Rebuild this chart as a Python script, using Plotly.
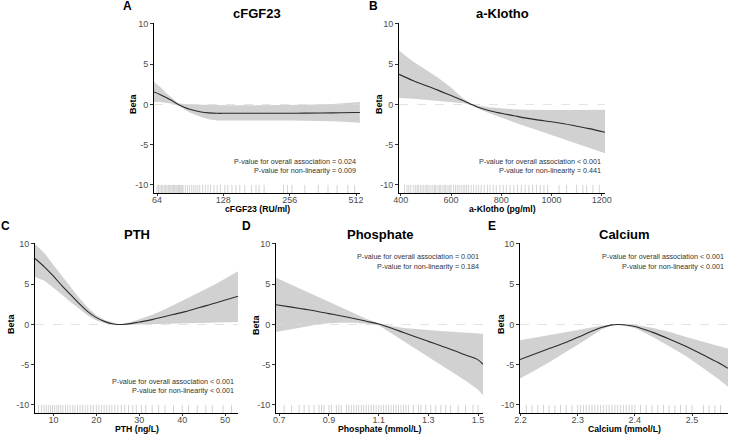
import plotly.graph_objects as go
import math

# ---------------- data ----------------
# A: cFGF23
fgf_x = [62, 66, 70, 75, 80, 85, 90, 100, 110, 120, 130, 150, 200, 256, 300, 400, 512, 533]
fgf_y = [1.55, 1.25, 0.9, 0.45, 0.0, -0.35, -0.6, -0.9, -1.05, -1.1, -1.1, -1.1, -1.1, -1.1, -1.08, -1.05, -1.0, -1.0]
fgf_up = [2.8, 2.2, 1.5, 0.8, 0.15, 0.05, 0.0, -0.05, -0.05, -0.1, -0.1, -0.1, -0.1, -0.1, -0.05, 0.05, 0.25, 0.3]
fgf_lo = [0.3, 0.3, 0.25, 0.1, -0.15, -0.6, -1.0, -1.5, -1.85, -2.0, -2.05, -2.05, -2.0, -2.0, -2.0, -2.1, -2.25, -2.3]
fgf_rug = [64, 65, 66, 67, 68, 69, 70, 71, 72, 73, 74, 75, 76, 77, 78, 79, 80, 81, 82, 83, 84, 86, 88, 90, 92,
           94, 96, 98, 100, 103, 106, 109, 112, 116, 120, 124, 130, 134, 140, 146, 152, 160, 172, 180, 186,
           196, 240, 250, 262, 300, 345, 382, 420, 470, 505]

# B: a-Klotho
klo_x = [393, 450, 500, 550, 600, 650, 675, 700, 750, 800, 850, 900, 950, 1000, 1050, 1100, 1150, 1213]
klo_y = [3.75, 2.95, 2.35, 1.75, 1.1, 0.45, 0.1, -0.25, -0.75, -1.1, -1.4, -1.7, -1.95, -2.15, -2.4, -2.7, -3.0, -3.45]
klo_up = [6.7, 5.3, 4.3, 3.3, 2.1, 0.7, 0.2, -0.1, -0.35, -0.5, -0.6, -0.65, -0.7, -0.7, -0.7, -0.7, -0.65, -0.65]
klo_lo = [0.8, 0.7, 0.6, 0.45, 0.3, 0.15, -0.05, -0.4, -1.05, -1.65, -2.2, -2.75, -3.3, -3.8, -4.3, -4.9, -5.4, -6.05]
klo_rug = [415, 425, 432, 440, 450, 458, 465, 470, 478, 485, 492, 500, 505, 512, 520, 528, 535, 540, 548, 555,
           560, 568, 575, 580, 588, 595, 600, 610, 618, 625, 632, 640, 648, 655, 662, 670, 680, 690, 700, 710,
           720, 732, 745, 755, 768, 780, 795, 808, 820, 835, 850, 865, 880, 895, 910, 925, 940, 955, 970, 985,
           1030, 1060, 1100, 1125, 1140, 1165, 1190]

# C: PTH
pth_x = [5.7, 8, 10, 12, 14, 16, 18, 20, 22, 24, 25, 26, 28, 30, 33, 36, 40, 44, 48, 53]
pth_y = [8.2, 7.1, 6.0, 4.8, 3.7, 2.6, 1.6, 0.85, 0.35, 0.05, 0.0, 0.0, 0.1, 0.3, 0.6, 1.0, 1.5, 2.1, 2.7, 3.5]
pth_up = [10.0, 8.8, 7.4, 6.0, 4.6, 3.3, 2.1, 1.15, 0.55, 0.15, 0.05, 0.05, 0.3, 0.65, 1.2, 1.9, 2.9, 4.0, 5.1, 6.6]
pth_lo = [5.9, 5.4, 4.6, 3.7, 2.8, 1.9, 1.1, 0.5, 0.15, -0.05, -0.05, -0.05, -0.05, 0.0, 0.05, 0.1, 0.15, 0.2, 0.25, 0.3]
pth_rug = [6.5, 7.2, 7.8, 8.3, 8.8, 9.3, 9.8, 10.3, 10.8, 11.2, 11.7, 12.2, 12.8, 13.3, 13.9, 14.5, 15.0, 15.6,
           16.2, 16.8, 17.4, 18.0, 18.7, 19.3, 20.0, 20.6, 21.2, 21.8, 22.4, 23.0, 23.6, 24.3, 25.0, 25.8, 26.6,
           27.5, 28.5, 29.3, 30.5, 31.5, 33.0, 34.5, 36.0, 38.0, 40.0, 41.5, 43.5, 45.5, 47.0, 49.5, 51.5]

# D: Phosphate
pho_x = [0.687, 0.75, 0.8, 0.85, 0.9, 0.95, 1.0, 1.05, 1.1, 1.15, 1.2, 1.25, 1.3, 1.35, 1.4, 1.45, 1.5, 1.52]
pho_y = [2.45, 2.15, 1.9, 1.65, 1.35, 1.05, 0.75, 0.4, 0.05, -0.45, -1.0, -1.55, -2.1, -2.65, -3.2, -3.8, -4.4, -4.95]
pho_up = [5.8, 4.9, 4.2, 3.5, 2.8, 2.05, 1.35, 0.7, 0.15, -0.2, -0.45, -0.6, -0.7, -0.8, -0.9, -1.0, -1.1, -1.15]
pho_lo = [-0.95, -0.55, -0.3, -0.05, 0.15, 0.2, 0.2, 0.1, -0.1, -1.0, -2.0, -3.0, -4.0, -5.0, -6.0, -7.0, -8.1, -8.8]
pho_rug = [0.72, 0.75, 0.78, 0.8, 0.82, 0.84, 0.86, 0.87, 0.88, 0.9, 0.91, 0.93, 0.94, 0.95, 0.97, 0.98, 0.99,
           1.0, 1.01, 1.02, 1.03, 1.04, 1.05, 1.06, 1.07, 1.08, 1.09, 1.1, 1.11, 1.12, 1.13, 1.14, 1.15, 1.16,
           1.17, 1.18, 1.19, 1.2, 1.21, 1.22, 1.24, 1.26, 1.27, 1.29, 1.31, 1.33, 1.35, 1.37, 1.39, 1.42,
           1.45, 1.48, 1.5]

# E: Calcium
cal_x = [2.199, 2.22, 2.25, 2.28, 2.31, 2.34, 2.36, 2.37, 2.38, 2.40, 2.43, 2.46, 2.49, 2.52, 2.545, 2.563]
cal_y = [-4.35, -3.8, -3.0, -2.2, -1.3, -0.4, -0.05, 0.0, -0.03, -0.25, -0.95, -1.8, -2.75, -3.8, -4.7, -5.45]
cal_up = [-1.95, -1.7, -1.3, -0.95, -0.55, -0.15, 0.0, 0.02, 0.0, -0.05, -0.4, -0.9, -1.55, -2.2, -2.65, -3.0]
cal_lo = [-6.7, -5.9, -4.7, -3.45, -2.1, -0.7, -0.1, -0.02, -0.1, -0.45, -1.5, -2.7, -3.95, -5.4, -6.7, -7.75]
cal_rug = [2.21, 2.22, 2.23, 2.24, 2.25, 2.26, 2.27, 2.28, 2.29, 2.30, 2.305, 2.31, 2.315, 2.32, 2.325, 2.33,
           2.335, 2.34, 2.345, 2.35, 2.355, 2.36, 2.365, 2.37, 2.375, 2.38, 2.385, 2.39, 2.395, 2.40, 2.41,
           2.42, 2.43, 2.44, 2.45, 2.46, 2.47, 2.48, 2.49, 2.50, 2.52, 2.53, 2.54, 2.55]

titles = ["cFGF23", "a-Klotho", "PTH", "Phosphate", "Calcium"]
letters = ["A", "B", "C", "D", "E"]
xtitles = ["cFGF23 (RU/ml)", "a-Klotho (pg/ml)", "PTH (ng/L)", "Phosphate (mmol/L)", "Calcium (mmol/L)"]
pvals = [
    ["P-value for overall association = 0.024", "P-value for non-linearity = 0.009"],
    ["P-value for overall association < 0.001", "P-value for non-linearity = 0.441"],
    ["P-value for overall association < 0.001", "P-value for non-linearity < 0.001"],
    ["P-value for overall association = 0.001", "P-value for non-linearity = 0.184"],
    ["P-value for overall association < 0.001", "P-value for non-linearity < 0.001"],
]
xticks = [[64, 128, 256, 512], [400, 600, 800, 1000, 1200], [10, 20, 30, 40, 50],
          [0.7, 0.9, 1.1, 1.3, 1.5], [2.2, 2.3, 2.4, 2.5]]
xticktext = [["64", "128", "256", "512"], ["400", "600", "800", "1000", "1200"],
             ["10", "20", "30", "40", "50"], ["0.7", "0.9", "1.1", "1.3", "1.5"],
             ["2.2", "2.3", "2.4", "2.5"]]
yticks = [10, 5, 0, -5, -10]
yticktext = ["10", "5", "0", "-5", "-10"]

# ---------------- layout geometry (pixels) ----------------
W, H = 729, 434
panels_px = [  # (left, right, top, bottom)
    (154, 360, 23, 193),
    (399, 605, 23, 193),
    (35, 238, 243, 413),
    (276, 483, 243, 413),
    (520, 728, 243, 413),
]
xranges = [[math.log10(62), math.log10(533.7)], [393, 1213], [5.7, 53], [0.687, 1.52], [2.199, 2.563]]
xtypes = ["log", "linear", "linear", "linear", "linear"]
pvpos = ["bottom", "bottom", "bottom", "top", "top"]
beta_x = [133, 379, 11, 256, 501]
letter_xy = [(127, 6), (373, 6), (5, 226), (247, 226), (492, 226)]

series = [
    (fgf_x, fgf_y, fgf_up, fgf_lo, fgf_rug),
    (klo_x, klo_y, klo_up, klo_lo, klo_rug),
    (pth_x, pth_y, pth_up, pth_lo, pth_rug),
    (pho_x, pho_y, pho_up, pho_lo, pho_rug),
    (cal_x, cal_y, cal_up, cal_lo, cal_rug),
]

FONT = "Arial, Liberation Sans, sans-serif"
fig = go.Figure()
layout = dict(
    width=W, height=H, margin=dict(l=0, r=0, t=0, b=0, pad=0), autosize=False,
    paper_bgcolor="white", plot_bgcolor="white", showlegend=False,
    font=dict(family=FONT, color="#4d4d4d"),
)
annotations = []

for i in range(5):
    n = "" if i == 0 else str(i + 1)
    xa, ya = "x" + n, "y" + n
    l, r, t, b = panels_px[i]
    x, y, up, lo, rug = series[i]
    fig.add_trace(go.Scatter(x=list(x) + list(x)[::-1], y=list(up) + list(lo)[::-1],
                             fill="toself", fillcolor="rgba(0,0,0,0.18)", line=dict(width=0),
                             mode="lines", hoverinfo="skip", xaxis=xa, yaxis=ya))
    fig.add_trace(go.Scatter(x=[x[0], x[-1]], y=[0, 0],
                             mode="lines", line=dict(color="#dcdcdc", width=0.8, dash="dash"),
                             xaxis=xa, yaxis=ya, hoverinfo="skip"))
    fig.add_trace(go.Scatter(x=x, y=y, mode="lines", line=dict(color="#2b2b2b", width=1.1, shape="spline"),
                             xaxis=xa, yaxis=ya))
    fig.add_trace(go.Scatter(x=rug, y=[-10.6] * len(rug), mode="markers",
                             marker=dict(symbol="line-ns", size=7,
                                         line=dict(width=0.6, color="rgba(0,0,0,0.3)")),
                             xaxis=xa, yaxis=ya, hoverinfo="skip"))

    layout["xaxis" + n] = dict(
        domain=[l / W, r / W], anchor=ya, type=xtypes[i], range=xranges[i], automargin=False,
        tickvals=xticks[i], ticktext=xticktext[i], ticks="outside", ticklen=2, tickwidth=0.8,
        tickcolor="#333", showline=True, linecolor="black", linewidth=1, showgrid=False, zeroline=False,
        tickfont=dict(size=9, color="#4d4d4d", family=FONT), ticklabelstandoff=-4,
    )
    layout["yaxis" + n] = dict(
        domain=[1 - b / H, 1 - t / H], anchor=xa, range=[-11, 10.12], automargin=False,
        tickvals=yticks, ticktext=yticktext, ticks="outside", ticklen=3, tickwidth=0.8,
        tickcolor="#333", showline=True, linecolor="black", linewidth=1, showgrid=False, zeroline=False,
        tickfont=dict(size=9, color="#4d4d4d", family=FONT),
    )
    annotations.append(dict(text="<b>" + titles[i] + "</b>", x=(l + r) / 2 / W, y=1 - (t - 9) / H,
                            xref="paper", yref="paper", showarrow=False, xanchor="center", yanchor="middle",
                            font=dict(size=13, color="black", family=FONT)))
    lx, ly = letter_xy[i]
    annotations.append(dict(text="<b>" + letters[i] + "</b>", x=lx / W, y=1 - ly / H,
                            xref="paper", yref="paper", showarrow=False, xanchor="center", yanchor="middle",
                            font=dict(size=12, color="black", family=FONT)))
    annotations.append(dict(text="<b>" + xtitles[i] + "</b>", x=(l + r) / 2 / W, y=1 - (b + 16) / H,
                            xref="paper", yref="paper", showarrow=False, xanchor="center", yanchor="middle",
                            font=dict(size=8.7, color="black", family=FONT)))
    annotations.append(dict(text="<b>Beta</b>", x=beta_x[i] / W, y=1 - (t + 81) / H, textangle=-90,
                            xref="paper", yref="paper", showarrow=False, xanchor="center", yanchor="middle",
                            font=dict(size=9, color="black", family=FONT)))
    if pvpos[i] == "bottom":
        py1, py2 = b - 32, b - 23
    else:
        py1, py2 = t + 13, t + 23
    for txt, py in zip(pvals[i], [py1, py2]):
        annotations.append(dict(text=txt, x=(r - 2) / W, y=1 - py / H, xref="paper", yref="paper",
                                showarrow=False, xanchor="right", yanchor="middle",
                                font=dict(size=7.2, color="#333", family=FONT)))

layout["annotations"] = annotations
fig.update_layout(**layout)
fig.write_html("out.html", config={"displayModeBar": False},
               post_script="document.body.style.margin='0';document.body.style.padding='0';"
                           "document.body.style.overflow='hidden';")
